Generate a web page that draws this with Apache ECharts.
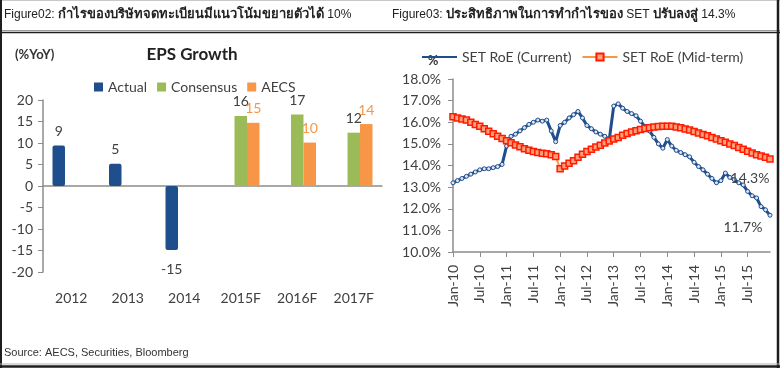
<!DOCTYPE html>
<html><head><meta charset="utf-8">
<script src="https://cdn.jsdelivr.net/npm/echarts@6/dist/echarts.min.js"></script>
<style>html,body{margin:0;padding:0;background:#fff}#c{width:780px;height:368px}</style>
</head><body><div id="c"></div>
<script>
// ---- Left chart data ----
const years = ['2012','2013','2014','2015F','2016F','2017F'];
const actual = [9.4, 5.2, -14.9, null, null, null];
const consensus = [null, null, null, 16.3, 16.6, 12.4];
const aecs = [null, null, null, 14.7, 10.1, 14.4];
const epsTicks = [-20, -15, -10, -5, 0, 5, 10, 15, 20];

// ---- Right chart data (monthly, Jan-10 .. Dec-15) ----
const monthNames = ['Jan','Feb','Mar','Apr','May','Jun','Jul','Aug','Sep','Oct','Nov','Dec'];
const yearSuffix = ['10','11','12','13','14','15'];
const months = [];
yearSuffix.forEach(y => monthNames.forEach(m => months.push(m + '-' + y)));
const roeCurrent = [
  13.2, 13.3, 13.4, 13.5, 13.6, 13.7, 13.8, 13.85, 13.85, 13.9, 13.95, 14.05,
  14.9, 15.35, 15.45, 15.6, 15.75, 15.9, 16.0, 16.1, 16.05, 16.1, 15.6, 15.1,
  15.85, 16.0, 16.2, 16.35, 16.5, 16.2, 15.85, 15.7, 15.55, 15.45, 15.35, 15.2,
  16.75, 16.85, 16.65, 16.5, 16.4, 16.3, 16.05, 15.8, 15.6, 15.3, 15.0, 14.8,
  15.2, 14.9, 14.7, 14.6, 14.5, 14.4, 14.15, 13.95, 13.8, 13.6, 13.4, 13.2,
  13.3, 13.65, 13.45, 13.35, 13.2, 13.1, 12.8, 12.6, 12.5, 12.1, 11.95, 11.7
];
const roeMidTerm = [
  16.25, 16.2, 16.15, 16.1, 16.0, 15.9, 15.82, 15.7, 15.58, 15.47, 15.35, 15.25,
  15.15, 15.05, 14.95, 14.87, 14.78, 14.7, 14.65, 14.6, 14.57, 14.54, 14.5, 14.42,
  13.85, 13.98, 14.1, 14.22, 14.38, 14.52, 14.65, 14.75, 14.85, 14.94, 15.04, 15.13,
  15.22, 15.3, 15.4, 15.48, 15.55, 15.61, 15.66, 15.71, 15.75, 15.78, 15.8, 15.82,
  15.82, 15.81, 15.78, 15.74, 15.69, 15.64, 15.57, 15.5, 15.43, 15.37, 15.3, 15.23,
  15.15, 15.07, 15.0, 14.92, 14.83, 14.75, 14.66, 14.58, 14.5, 14.44, 14.38, 14.3
];
const roeTicks = [10, 11, 12, 13, 14, 15, 16, 17, 18];

const FONT = 'Lato, "DejaVu Sans", sans-serif';
const TXT = '#404040';
const AX = '#8c8c8c';

function barData(arr, labelColor) {
  return arr.map(v => {
    if (v === null) return '-';
    return { value: v, label: { position: v < 0 ? 'bottom' : 'top', distance: v < 0 ? 12 : 7, color: labelColor } };
  });
}
function lastLabel(arr, offset) {
  return arr.map((v, i) => i === arr.length - 1
    ? { value: v, label: { show: true, position: 'bottom', offset: offset, formatter: p => p.value.toFixed(1) + '%', color: TXT, fontSize: 14, fontFamily: FONT } }
    : v);
}

const chart = echarts.init(document.getElementById('c'), null, { renderer: 'canvas' });
const option = {
  animation: false,
  textStyle: { fontFamily: FONT },
  grid: [
    { left: 43, right: 398, top: 100, bottom: 96, outerBoundsMode: 'none', containLabel: false },
    { left: 453, right: 10, top: 79, bottom: 116, outerBoundsMode: 'none', containLabel: false }
  ],
  legend: [
    {
      left: 89, top: 75, itemWidth: 9, itemHeight: 9, itemGap: 10, icon: 'rect',
      textStyle: { color: TXT, fontSize: 14, fontFamily: FONT },
      data: ['Actual', 'Consensus', 'AECS']
    },
    {
      left: 416, top: 45, itemWidth: 35, itemHeight: 9, itemGap: 10,
      textStyle: { color: TXT, fontSize: 14, fontFamily: FONT },
      data: [
        { name: 'SET RoE (Current)', itemStyle: { color: 'rgba(0,0,0,0)', borderColor: 'rgba(0,0,0,0)', borderWidth: 0 } },
        { name: 'SET RoE (Mid-term)' }
      ]
    }
  ],
  xAxis: [
    {
      gridIndex: 0, type: 'category', data: years,
      axisLine: { onZero: true, lineStyle: { color: AX, width: 1.5 } },
      axisTick: { length: 5, lineStyle: { color: AX } },
      axisLabel: { show: false }
    },
    {
      gridIndex: 1, type: 'category', data: months, boundaryGap: false,
      axisLine: { lineStyle: { color: AX, width: 1.5 } },
      axisTick: { interval: 5, length: 5, lineStyle: { color: AX } },
      axisLabel: { interval: 5, rotate: 90, margin: 13, color: TXT, fontSize: 14, fontFamily: FONT }
    },
    {
      gridIndex: 0, type: 'category', data: years, position: 'bottom',
      axisLine: { show: false, onZero: false },
      axisTick: { show: false },
      axisLabel: { margin: 19, color: TXT, fontSize: 14, fontFamily: FONT }
    }
  ],
  yAxis: [
    {
      gridIndex: 0, type: 'value', min: epsTicks[0], max: epsTicks[epsTicks.length - 1], interval: 5,
      axisLine: { show: true, lineStyle: { color: AX, width: 1.5 } },
      axisTick: { show: true, length: 5, lineStyle: { color: AX } },
      splitLine: { show: false },
      axisLabel: { margin: 10, color: TXT, fontSize: 14, fontFamily: FONT }
    },
    {
      gridIndex: 1, type: 'value', min: roeTicks[0], max: roeTicks[roeTicks.length - 1], interval: 1,
      axisLine: { show: true, lineStyle: { color: AX, width: 1.5 } },
      axisTick: { show: true, length: 5, lineStyle: { color: AX } },
      splitLine: { show: false },
      axisLabel: { margin: 12, color: TXT, fontSize: 14, fontFamily: FONT, formatter: v => v.toFixed(1) + '%' }
    }
  ],
  series: [
    {
      name: 'Actual', type: 'bar', xAxisIndex: 0, yAxisIndex: 0, barWidth: 12.5, barGap: '0%',
      itemStyle: { color: '#1f4e8c', borderRadius: 2 },
      label: { show: true, fontSize: 14, fontFamily: FONT, formatter: p => Math.round(p.value) },
      data: barData(actual, TXT)
    },
    {
      name: 'Consensus', type: 'bar', xAxisIndex: 0, yAxisIndex: 0, barWidth: 12.5, barGap: '0%',
      itemStyle: { color: '#9bbb59' },
      label: { show: true, fontSize: 14, fontFamily: FONT, formatter: p => Math.round(p.value) },
      data: barData(consensus, TXT)
    },
    {
      name: 'AECS', type: 'bar', xAxisIndex: 0, yAxisIndex: 0, barWidth: 12.5, barGap: '0%',
      itemStyle: { color: '#f79646' },
      label: { show: true, fontSize: 14, fontFamily: FONT, formatter: p => Math.round(p.value) },
      data: barData(aecs, '#f79646')
    },
    {
      name: 'SET RoE (Current)', type: 'line', xAxisIndex: 1, yAxisIndex: 1,
      symbol: 'circle', symbolSize: 4, showAllSymbol: true,
      lineStyle: { color: '#1f4e8c', width: 3 },
      itemStyle: { color: '#dfe6f2', borderColor: '#1f4e8c', borderWidth: 1 },
      data: lastLabel(roeCurrent, [-27, -2])
    },
    {
      name: 'SET RoE (Mid-term)', type: 'line', xAxisIndex: 1, yAxisIndex: 1,
      symbol: 'rect', symbolSize: 6, showAllSymbol: true,
      lineStyle: { color: '#f79646', width: 2 },
      itemStyle: { color: '#ffa07a', borderColor: '#ff1a00', borderWidth: 1.5 },
      data: lastLabel(roeMidTerm, [-20, 4])
    }
  ],
  graphic: [
    { type: 'line', shape: { x1: 0, y1: 0.5, x2: 780, y2: 0.5 }, style: { stroke: '#c8c8c8', lineWidth: 1 } },
    { type: 'line', shape: { x1: 0, y1: 30.5, x2: 780, y2: 30.5 }, style: { stroke: '#9a9a9a', lineWidth: 1 } },
    { type: 'line', shape: { x1: 0, y1: 32.5, x2: 780, y2: 32.5 }, style: { stroke: '#1e1e1e', lineWidth: 1.5 } },
    { type: 'line', shape: { x1: 1, y1: 0, x2: 1, y2: 368 }, style: { stroke: '#1e1e1e', lineWidth: 2 } },
    { type: 'line', shape: { x1: 778, y1: 0, x2: 778, y2: 368 }, style: { stroke: '#1e1e1e', lineWidth: 2.5 } },
    { type: 'line', shape: { x1: 0, y1: 364, x2: 780, y2: 364 }, style: { stroke: '#b0b0b0', lineWidth: 1 } },
    { type: 'line', shape: { x1: 0, y1: 366.5, x2: 780, y2: 366.5 }, style: { stroke: '#1e1e1e', lineWidth: 2.5 } },
    {
      type: 'text', left: 4, top: 8,
      style: {
        text: '{a|Figure02: }{b|กำไรของบริษัทจดทะเบียนมีแนวโน้มขยายตัวได้}{a| 10%}',
        rich: {
          a: { fontFamily: '"Liberation Sans", Arial, sans-serif', fontSize: 12, fill: '#222' },
          b: { fontFamily: '"Liberation Sans", "DejaVu Sans", sans-serif', fontSize: 13, fontWeight: 'bold', fill: '#222' }
        }
      }
    },
    {
      type: 'text', left: 392, top: 8,
      style: {
        text: '{a|Figure03: }{b|ประสิทธิภาพในการทำกำไรของ}{a| SET }{b|ปรับลงสู่}{a| 14.3%}',
        rich: {
          a: { fontFamily: '"Liberation Sans", Arial, sans-serif', fontSize: 12, fill: '#222' },
          b: { fontFamily: '"Liberation Sans", "DejaVu Sans", sans-serif', fontSize: 13, fontWeight: 'bold', fill: '#222' }
        }
      }
    },
    { type: 'text', x: 15, y: 55, style: { text: '(%YoY)', fontFamily: FONT, fontSize: 13, fontWeight: 'bold', fill: '#333', textVerticalAlign: 'middle' } },
    { type: 'text', x: 192, y: 55, style: { text: 'EPS Growth', fontFamily: FONT, fontSize: 17, fontWeight: 'bold', fill: '#222', textAlign: 'center', textVerticalAlign: 'middle' } },
    { type: 'text', x: 433, y: 61, style: { text: '%', fontFamily: FONT, fontSize: 13, fontWeight: 'bold', fill: '#333', textAlign: 'center', textVerticalAlign: 'middle' } },
    { type: 'text', x: 4, y: 353, style: { text: 'Source: AECS, Securities, Bloomberg', fontFamily: '"Liberation Sans", Arial, sans-serif', fontSize: 11, fill: '#333', textVerticalAlign: 'middle' } }
  ]
};
chart.setOption(option);
</script></body></html>
